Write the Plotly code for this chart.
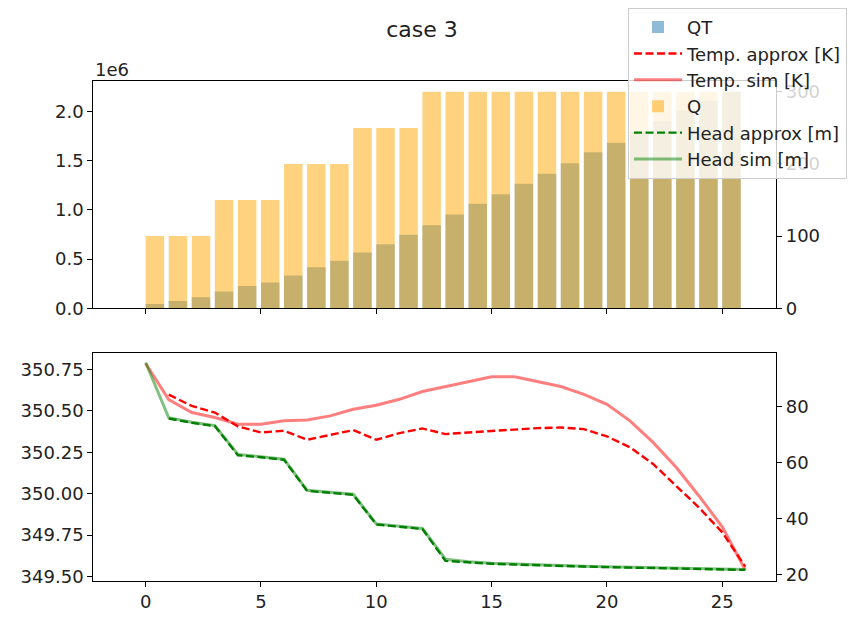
import plotly.graph_objects as go

steps = list(range(27))
bar_steps = list(range(26))

QT = [0.043e6, 0.073e6, 0.113e6, 0.17e6, 0.226e6, 0.263e6, 0.333e6, 0.416e6, 0.483e6,
      0.566e6, 0.65e6, 0.746e6, 0.843e6, 0.953e6, 1.063e6, 1.16e6, 1.266e6, 1.366e6,
      1.473e6, 1.586e6, 1.683e6, 1.79e6, 1.90e6, 2.01e6, 2.11e6, 2.20e6]
Q = [100, 100, 100, 150, 150, 150, 200, 200, 200, 250, 250, 250,
     300, 300, 300, 300, 300, 300, 300, 300, 300, 300, 300, 300, 300, 300]

temp_sim = [350.786, 350.568, 350.49, 350.46, 350.42, 350.42, 350.44, 350.445, 350.47,
            350.51, 350.534, 350.57, 350.617, 350.647, 350.676, 350.706, 350.706, 350.676,
            350.647, 350.60, 350.54, 350.44, 350.31, 350.16, 349.985, 349.80, 349.54]
temp_approx = [None, 350.598, 350.53, 350.49, 350.406, 350.37, 350.38, 350.326, 350.354,
               350.384, 350.326, 350.366, 350.394, 350.36, 350.37, 350.38, 350.39, 350.396,
               350.40, 350.39, 350.346, 350.28, 350.18, 350.05, 349.915, 349.767, 349.56]
head_sim = [95.8, 76.1, 74.5, 73.3, 63.0, 62.2, 61.3, 50.2, 49.5, 48.8, 38.2, 37.3, 36.6,
            25.6, 24.7, 24.2, 23.9, 23.5, 23.3, 23.1, 22.9, 22.7, 22.6, 22.4, 22.2, 22.0, 21.9]
head_approx = [None, 75.8, 74.3, 73.1, 62.7, 62.0, 61.1, 50.0, 49.3, 48.6, 38.0, 37.1, 36.4,
               25.0, 24.4, 24.0, 23.7, 23.4, 23.2, 23.0, 22.8, 22.6, 22.5, 22.3, 22.1, 21.9, 21.8]

x_ticks = [0, 5, 10, 15, 20, 25]
qt_ticks = [0, 0.5e6, 1.0e6, 1.5e6, 2.0e6]
qt_ticktext = ["0.0", "0.5", "1.0", "1.5", "2.0"]
q_ticks = [0, 100, 200, 300]
temp_ticks = [349.5, 349.75, 350.0, 350.25, 350.5, 350.75]
temp_ticktext = ["349.50", "349.75", "350.00", "350.25", "350.50", "350.75"]
head_ticks = [20, 40, 60, 80]

FONT = "DejaVu Sans"
FS = 18
dash = "8px,3.5px"

fig = go.Figure()
fig.add_trace(go.Bar(x=bar_steps, y=QT, offset=0, width=0.8, name="QT",
                     marker=dict(color="rgba(31,119,180,0.5)", line=dict(width=0)),
                     xaxis="x", yaxis="y", legendgroup="g1"))
fig.add_trace(go.Scatter(x=steps, y=temp_approx, mode="lines", name="Temp. approx [K]",
                         line=dict(color="red", width=2.4, dash=dash),
                         xaxis="x2", yaxis="y3", legendgroup="g2"))
fig.add_trace(go.Scatter(x=steps, y=temp_sim, mode="lines", name="Temp. sim [K]",
                         line=dict(color="rgba(255,0,0,0.5)", width=3),
                         xaxis="x2", yaxis="y3", legendgroup="g3"))
fig.add_trace(go.Bar(x=bar_steps, y=Q, offset=0, width=0.8, name="Q",
                     marker=dict(color="rgba(255,165,0,0.5)", line=dict(width=0)),
                     xaxis="x", yaxis="y2", legendgroup="g4"))
fig.add_trace(go.Scatter(x=steps, y=head_approx, mode="lines", name="Head approx [m]",
                         line=dict(color="green", width=2.4, dash=dash),
                         xaxis="x2", yaxis="y4", legendgroup="g5"))
fig.add_trace(go.Scatter(x=steps, y=head_sim, mode="lines", name="Head sim [m]",
                         line=dict(color="rgba(0,128,0,0.5)", width=3),
                         xaxis="x2", yaxis="y4", legendgroup="g6"))

ax_common = dict(showgrid=False, zeroline=False, showline=True, linecolor="black",
                 linewidth=1.2, ticks="outside", ticklen=5, tickwidth=1.2, tickcolor="black",
                 tickfont=dict(family=FONT, size=FS, color="#222"))

xdom = [93.3 / 855, 776 / 855]
fig.update_layout(
    width=855, height=624,
    margin=dict(l=0, r=0, t=0, b=0),
    paper_bgcolor="white", plot_bgcolor="white",
    barmode="overlay",
    font=dict(family=FONT, size=FS, color="#222"),
    title=dict(text="case 3", x=422 / 855, xanchor="center", y=1 - 29 / 624, yanchor="middle",
               font=dict(family=FONT, size=22, color="#222")),
    xaxis=dict(domain=xdom, anchor="y", range=[-2.27, 27.33], tickvals=x_ticks,
               showticklabels=False, mirror=True, **ax_common),
    xaxis2=dict(domain=xdom, anchor="y3", range=[-2.27, 27.33], tickvals=x_ticks,
                matches="x", mirror=True, **ax_common),
    yaxis=dict(domain=[1 - 313.3 / 624, 1 - 82.3 / 624], anchor="x", range=[0, 2.31e6],
               tickvals=qt_ticks, ticktext=qt_ticktext, mirror=True, **ax_common),
    yaxis2=dict(overlaying="y", side="right", anchor="x", range=[0, 315],
                tickvals=q_ticks, **ax_common),
    yaxis3=dict(domain=[1 - 590 / 624, 1 - 359 / 624], anchor="x2",
                range=[349.476, 350.848], tickvals=temp_ticks, ticktext=temp_ticktext,
                mirror=True, **ax_common),
    yaxis4=dict(overlaying="y3", side="right", anchor="x2", range=[18.0, 99.1],
                tickvals=head_ticks, **ax_common),
    legend=dict(x=628 / 855, y=1 - 8 / 624, xanchor="left", yanchor="top",
                bgcolor="rgba(255,255,255,0.8)", bordercolor="#cccccc", borderwidth=1,
                font=dict(family=FONT, size=FS, color="#222"),
                tracegroupgap=10.5, traceorder="normal", itemwidth=48),
    showlegend=True,
)

fig.add_annotation(text="1e6", xref="paper", yref="paper", x=93.3 / 855, y=1 - 71 / 624,
                   xanchor="left", yanchor="middle", showarrow=False,
                   font=dict(family=FONT, size=FS, color="#222"))

fig.write_html("out.html")
